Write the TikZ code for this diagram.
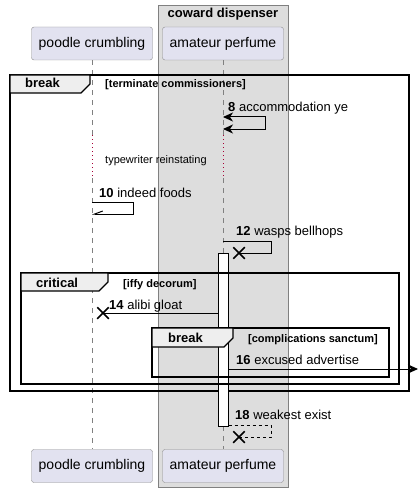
\documentclass[tikz,border=0pt]{standalone}
\usepackage{fontspec}
\setmainfont{Liberation Sans}
\usepackage{xcolor}
\usetikzlibrary{arrows.meta,shapes.misc}

\definecolor{partfill}{HTML}{E2E2F0}
\definecolor{partline}{HTML}{8C8C8C}
\definecolor{grpfill}{HTML}{DDDDDD}
\definecolor{tabfill}{HTML}{EEEEEE}
\definecolor{delayred}{HTML}{A80036}

\begin{document}
\begin{tikzpicture}[
  x=1pt, y=-1pt,
  part/.style={rectangle, draw=partline, fill=partfill, rounded corners=2.5pt, minimum width=121pt, minimum height=33pt, inner sep=0pt, font=\fontsize{14}{16}\selectfont},
  msgtext/.style={anchor=base west, inner sep=0pt, font=\fontsize{13}{15}\selectfont},
  condtext/.style={anchor=base west, inner sep=0pt, font=\fontsize{11}{13}\selectfont\bfseries},
  fraletter/.style={anchor=base west, inner sep=0pt, font=\fontsize{13}{15}\selectfont\bfseries},
  frame/.style={draw, line width=1.5pt},
  tabbox/.style={draw, fill=tabfill, line width=1.2pt},
  life/.style={draw=gray, dash pattern=on 5pt off 5pt, line width=0.8pt},
  delayline/.style={draw=delayred, dash pattern=on 1pt off 3pt, line width=0.8pt},
  msgline/.style={line width=1pt},
  kill/.style={draw, cross out, minimum size=10pt, inner sep=0pt, line width=1.5pt},
  tip/.style={-{Stealth[length=10pt,width=9pt,inset=3pt]}}
]
  \useasboundingbox (0,0) rectangle (419,492);

  % box round amateur perfume
  \draw[fill=grpfill, draw=gray, line width=0.8pt] (158,5) rectangle (288,487);
  \node[anchor=base, inner sep=0pt, font=\fontsize{13}{15}\selectfont\bfseries] (grptitle) at (223,18) {coward dispenser};

  % participants
  \node[part] (pc) at (92,43.5) {poodle crumbling};
  \node[part] (ap) at (223,43.5) {amateur perfume};
  \node[part] (pcb) at (92,466) {poodle crumbling};
  \node[part] (apb) at (223,466) {amateur perfume};

  % lifelines
  \coordinate (pcd1) at (92,135);
  \coordinate (pcd2) at (92,178);
  \coordinate (apd1) at (223,135);
  \coordinate (apd2) at (223,178);
  \coordinate (apa1) at (223,253);
  \coordinate (apa2) at (223,426);
  \draw[life] (pc.south) -- (pcd1);
  \draw[delayline] (pcd1) -- (pcd2);
  \draw[life] (pcd2) -- (pcb.north);
  \draw[life] (ap.south) -- (apd1);
  \draw[delayline] (apd1) -- (apd2);
  \draw[life] (apd2) -- (apa1);
  \draw[life] (apa2) -- (apb.north);

  % outer break
  \draw[frame] (10,75) rectangle (409,391);
  \draw[tabbox] (10,75) -- (90,75) -- (90,84) -- (81,93) -- (10,93) -- cycle;
  \node[fraletter] (brk1) at (25,88) {break};
  \node[condtext] (cond1) at (105,88) {[terminate commissioners]};

  % 8
  \node[msgtext] (m8) at (228,112) {\textbf{8} accommodation ye};
  \coordinate (s8) at (223,117);
  \draw[msgline, {Stealth[length=10pt,width=9pt,inset=3pt]}-{Stealth[length=10pt,width=9pt,inset=3pt]}] (s8) -- ++(42,0) -- ++(0,12) -- ++(-42,0);

  % delay
  \node[anchor=base west, inner sep=0pt, font=\fontsize{11}{13}\selectfont] (dly) at (105,163) {typewriter reinstating};

  % 10
  \node[msgtext] (m10) at (99,197) {\textbf{10} indeed foods};
  \coordinate (s10) at (92,202);
  \draw[msgline, -{Straight Barb[right,length=8pt,width=6pt]}] (s10) -- ++(41,0) -- ++(0,12) -- ++(-41,0);

  % 12
  \node[msgtext] (m12) at (236,235) {\textbf{12} wasps bellhops};
  \coordinate (s12) at (223,241);
  \node[kill] (x12) at (239,253) {};
  \draw[msgline] (s12) -- ++(48,0) -- ++(0,12) -- (x12.center);

  % activation
  \node[draw, fill=white, line width=1pt, minimum width=10pt, minimum height=173pt, inner sep=0pt, anchor=north] (act) at (apa1) {};

  % critical
  \draw[frame] (21,273) rectangle (399,384);
  \draw[tabbox] (21,273) -- (108,273) -- (108,282) -- (99,291) -- (21,291) -- cycle;
  \node[fraletter] (crit) at (36,287) {critical};
  \node[condtext] (cond2) at (123,287) {[iffy decorum]};

  % 14
  \node[msgtext] (m14) at (109,309) {\textbf{14} alibi gloat};
  \node[kill] (x14) at (103,313) {};
  \draw[msgline] (act.west |- x14) -- (x14.center);

  % inner break
  \draw[frame] (152,328) rectangle (389,377);
  \draw[tabbox] (152,328) -- (233,328) -- (233,338) -- (224,347) -- (152,347) -- cycle;
  \node[fraletter] (brk2) at (168,342) {break};
  \node[condtext] (cond3) at (248,342) {[complications sanctum]};

  % 16
  \node[msgtext] (m16) at (236,364) {\textbf{16} excused advertise};
  \coordinate (out16) at (418,369);
  \draw[msgline, tip] (act.east |- out16) -- (out16);

  % 18
  \node[msgtext] (m18) at (235,419) {\textbf{18} weakest exist};
  \node[kill] (x18) at (239,437) {};
  \draw[msgline, dashed, line width=0.8pt] (act.east |- 0,425) -- (271,425) -- (271,437) -- (x18.center);
\end{tikzpicture}
\end{document}
